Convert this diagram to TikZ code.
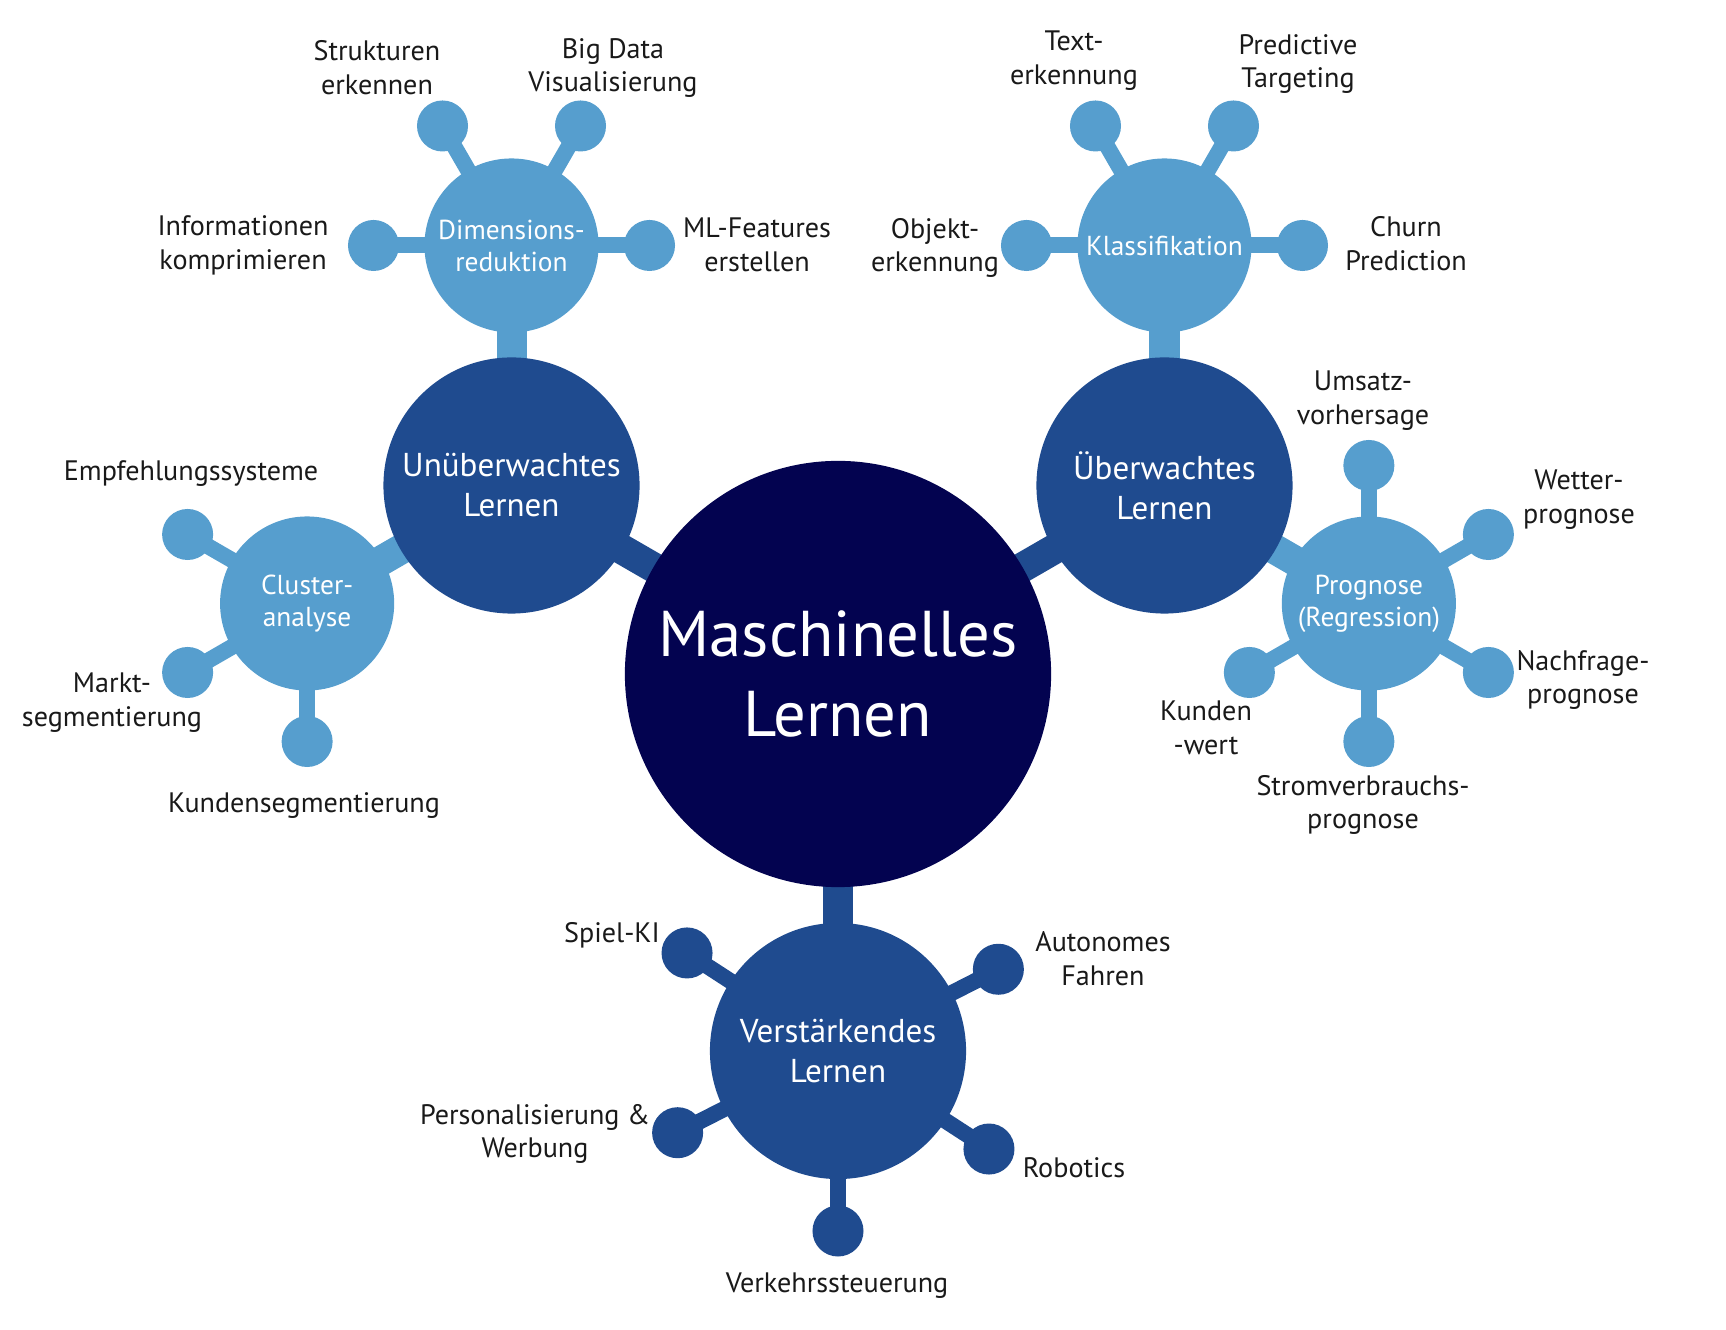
\documentclass[tikz,border=0pt]{standalone}
\usepackage{fontspec}
\setmainfont{PT Sans}
\usetikzlibrary{calc,backgrounds}
\definecolor{navy}{RGB}{3,3,80}
\definecolor{midblue}{RGB}{31,75,143}
\definecolor{lightblue}{RGB}{86,158,206}

\begin{document}
\begin{tikzpicture}[x=0.01cm, y=0.01cm,
  core/.style = {circle, fill=navy, text=white, minimum size=4.26cm, inner sep=0pt, align=center, font=\fontsize{18.4}{22.8}\selectfont},
  branch/.style = {circle, fill=midblue, text=white, minimum size=2.56cm, inner sep=0pt, align=center, font=\fontsize{9.4}{11.4}\selectfont},
  twig/.style = {circle, fill=lightblue, text=white, minimum size=1.74cm, inner sep=0pt, align=center, font=\fontsize{7.8}{9.1}\selectfont},
  bud/.style = {circle, fill=#1, minimum size=0.51cm, inner sep=0pt},
  lbl/.style = {align=center, text=black!90, inner sep=0pt, font=\fontsize{8}{9.6}\selectfont},
  stem/.style = {line width=0.3cm, #1},
  sprig/.style = {line width=0.16cm, #1}]
  \useasboundingbox (0,0) rectangle (1726,1330);

  % centre and the three kinds of learning
  \node[core] (ml) at (838,656) {Maschinelles\\Lernen};
  \node[branch] (unsup) at ($(ml)+(150:377)$) {Unüberwachtes\\Lernen};
  \node[branch] (sup) at ($(ml)+(30:377)$) {Überwachtes\\Lernen};
  \node[branch] (reinf) at ($(ml)+(270:377)$) {Verstärkendes\\Lernen};

  % methods
  \node[twig] (dim) at ($(unsup)+(90:240)$) {Dimensions-\\reduktion};
  \node[twig] (clus) at ($(unsup)+(210:236)$) {Cluster-\\analyse};
  \node[twig] (klass) at ($(sup)+(90:240)$) {Klassifikation};
  \node[twig] (prog) at ($(sup)+(-30:236)$) {Prognose\\(Regression)};

  % end points
  \foreach \a/\n in {120/d1, 60/d2, 180/d3, 0/d4}
    \node[bud=lightblue] (\n) at ($(dim)+(\a:138)$) {};
  \foreach \a/\n in {120/k1, 60/k2, 180/k3, 0/k4}
    \node[bud=lightblue] (\n) at ($(klass)+(\a:138)$) {};
  \foreach \a/\n in {90/p1, 30/p2, -30/p3, 210/p4, 270/p5}
    \node[bud=lightblue] (\n) at ($(prog)+(\a:138)$) {};
  \foreach \a/\n in {150/c1, 210/c2, 270/c3}
    \node[bud=lightblue] (\n) at ($(clus)+(\a:138)$) {};
  \foreach \a/\n in {147/r1, 27/r2, 207/r3, -33/r4, 270/r5}
    \node[bud=midblue] (\n) at ($(reinf)+(\a:180)$) {};

  \begin{scope}[on background layer]
    \foreach \n in {unsup, sup, reinf}
      \draw[stem=midblue] (ml.center) -- (\n.center);
    \draw[stem=lightblue] (unsup.center) -- (dim.center);
    \draw[stem=lightblue] (unsup.center) -- (clus.center);
    \draw[stem=lightblue] (sup.center) -- (klass.center);
    \draw[stem=lightblue] (sup.center) -- (prog.center);
    \foreach \n in {d1, d2, d3, d4}
      \draw[sprig=lightblue] (dim.center) -- (\n.center);
    \foreach \n in {k1, k2, k3, k4}
      \draw[sprig=lightblue] (klass.center) -- (\n.center);
    \foreach \n in {p1, p2, p3, p4, p5}
      \draw[sprig=lightblue] (prog.center) -- (\n.center);
    \foreach \n in {c1, c2, c3}
      \draw[sprig=lightblue] (clus.center) -- (\n.center);
    \foreach \n in {r1, r2, r3, r4, r5}
      \draw[sprig=midblue] (reinf.center) -- (\n.center);
  \end{scope}

  % labels
  \node[lbl] (t-d1) at (377,1262) {Strukturen\\erkennen};
  \node[lbl] (t-d2) at (613,1262) {Big Data\\Visualisierung};
  \node[lbl] (t-d3) at (243,1085) {Informationen\\komprimieren};
  \node[lbl] (t-d4) at (757,1085) {ML-Features\\erstellen};
  \node[lbl] (t-k1) at (1074,1269) {Text-\\erkennung};
  \node[lbl] (t-k2) at (1298,1266) {Predictive\\Targeting};
  \node[lbl] (t-k3) at (935,1082) {Objekt-\\erkennung};
  \node[lbl] (t-k4) at (1406,1086) {Churn\\Prediction};
  \node[lbl] (t-p1) at (1363,929) {Umsatz-\\vorhersage};
  \node[lbl] (t-p2) at (1579,830) {Wetter-\\prognose};
  \node[lbl] (t-p3) at (1583,650) {Nachfrage-\\prognose};
  \node[lbl] (t-p4) at (1206,602) {Kunden\\-wert};
  \node[lbl] (t-p5) at (1363,525) {Stromverbrauchs-\\prognose};
  \node[lbl] (t-c1) at (191,856) {Empfehlungssysteme};
  \node[lbl] (t-c2) at (112,627) {Markt-\\segmentierung};
  \node[lbl] (t-c3) at (304,524) {Kundensegmentierung};
  \node[lbl] (t-r1) at (612,395) {Spiel-KI};
  \node[lbl] (t-r2) at (1103,371) {Autonomes\\Fahren};
  \node[lbl] (t-r3) at (535,196) {Personalisierung \&\\Werbung};
  \node[lbl] (t-r4) at (1074,162) {Robotics};
  \node[lbl] (t-r5) at (837,44) {Verkehrssteuerung};
\end{tikzpicture}
\end{document}
